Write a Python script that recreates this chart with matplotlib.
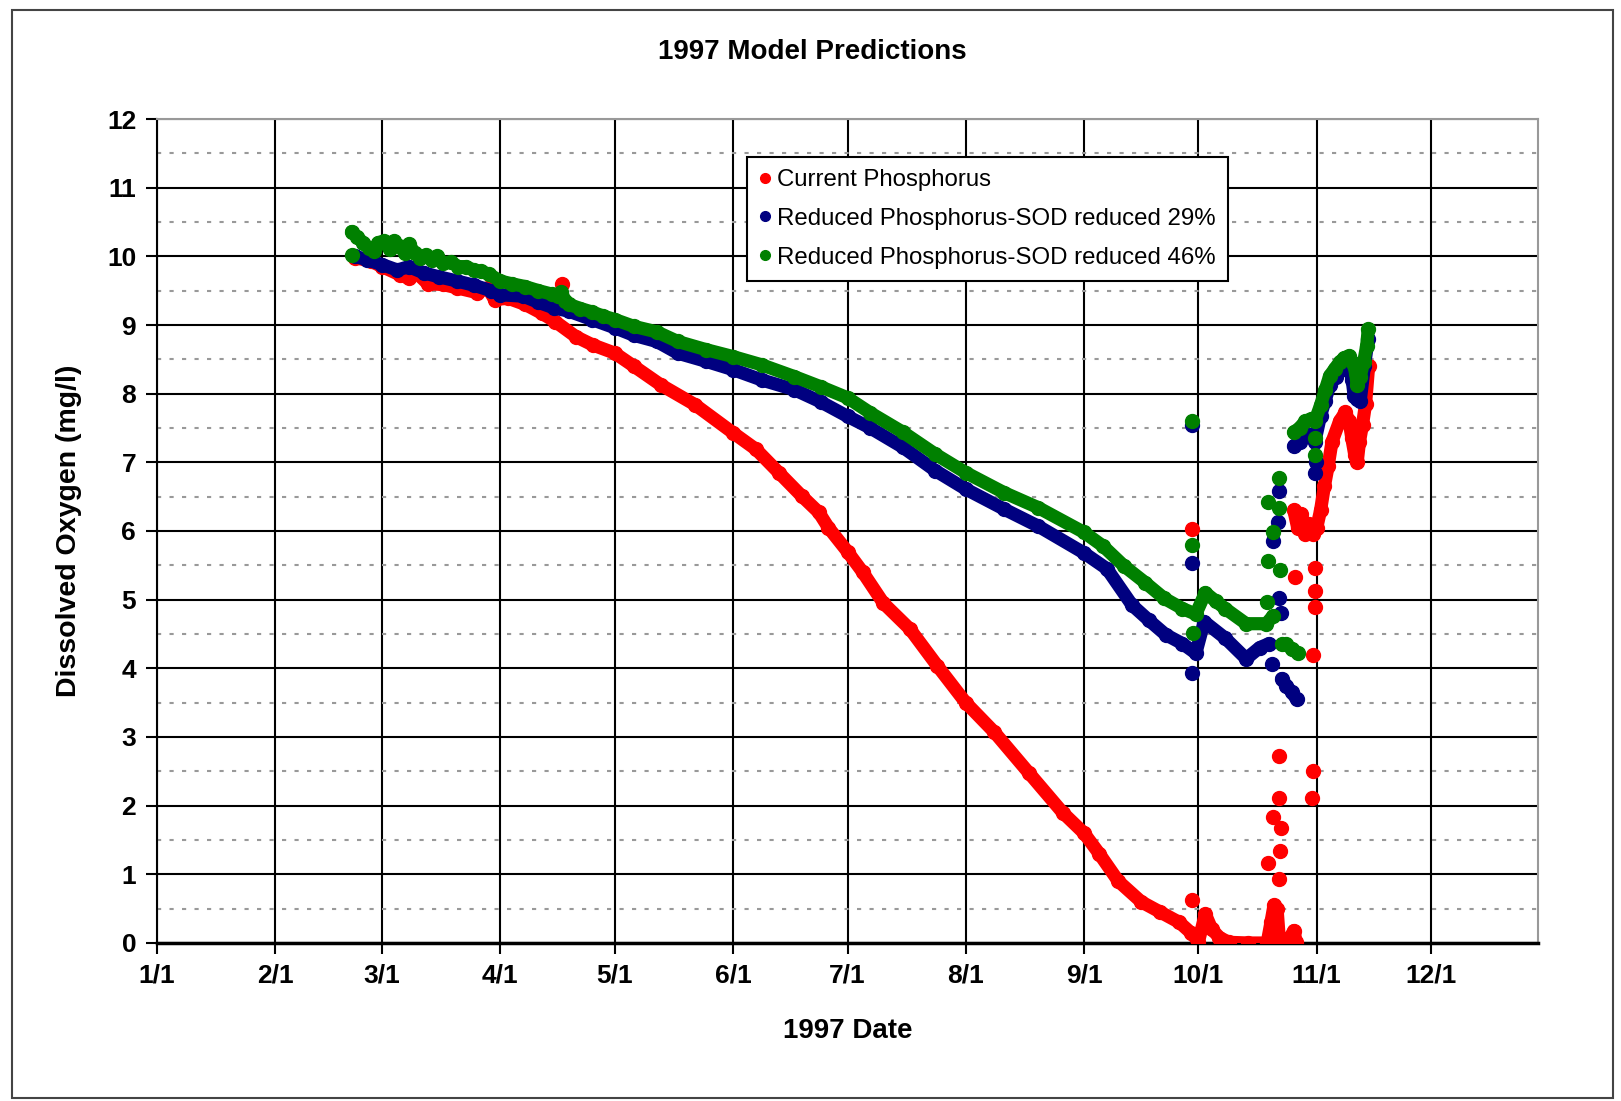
# -*- coding: utf-8 -*-
"""
1997 Model Predictions - dissolved oxygen for three phosphorus scenarios
"""

import numpy as np
import matplotlib
matplotlib.use('Agg')
import matplotlib.pyplot as plt
from matplotlib.patches import Rectangle

#--------#
# INPUTS #
#--------#

# x values are day of year (0 = 1/1/1997), y values are DO (mg/l)

# Current Phosphorus - main trace
red_day = [52, 56, 59, 63.7, 66, 68, 71, 75, 78.7, 84, 86.7, 88.5, 92, 96.5,
           100.9, 104.4, 109.8, 114.2, 120, 125, 132, 141, 151, 157, 163, 169,
           173.5, 176, 181, 185, 190.4, 197.4, 204.5, 212, 219.5, 228.5, 237.4,
           243, 247, 252, 258, 263, 268, 271, 273, 274.8, 276.5, 278.5, 281,
           286, 291, 292, 292.8, 293.6, 294.2, 296.5, 298, 298.6]
red_do = [9.98, 9.93, 9.85, 9.73, 9.68, 9.76, 9.6, 9.59, 9.54, 9.47, 9.54, 9.37,
          9.39, 9.3, 9.17, 9.05, 8.83, 8.71, 8.59, 8.4, 8.13, 7.84, 7.43, 7.19,
          6.85, 6.51, 6.27, 6.05, 5.7, 5.4, 4.95, 4.57, 4.04, 3.5, 3.07, 2.48,
          1.9, 1.6, 1.3, 0.9, 0.6, 0.45, 0.3, 0.15, 0.02, 0.42, 0.2, 0.08, 0.01,
          0.0, 0.0, 0.3, 0.55, 0.5, 0.05, 0.03, 0.18, 0.02]
# Current Phosphorus - November recovery
red_nov_day = [298, 299, 300, 301, 302, 303, 304, 305, 306, 307, 308, 310,
               311.5, 312.5, 313.2, 314, 314.6, 315.2, 316, 316.8, 317.6]
red_nov_do = [6.3, 6.05, 6.25, 5.95, 6.1, 5.95, 6.05, 6.3, 6.65, 6.95, 7.3, 7.6,
              7.73, 7.6, 7.35, 7.1, 7.0, 7.3, 7.55, 7.85, 8.4]
# Current Phosphorus - isolated values
red_pts_day = [106.2, 271.2, 271.2, 291.2, 292.6, 294, 294.2, 294.4, 294.6,
               294.2, 298.3, 302.7, 303.1, 303.1, 303.5, 303.5, 303.5]
red_pts_do = [9.59, 6.03, 0.62, 1.16, 1.84, 2.73, 2.11, 1.34, 1.68, 0.93, 5.33,
              2.11, 2.51, 4.2, 4.89, 5.13, 5.46]

# Reduced Phosphorus-SOD reduced 29%
blue_day = [52, 55, 59, 63, 66, 69.9, 74, 78.7, 83, 87.6, 90, 96, 100, 104, 108,
            114, 120, 125, 131, 136.5, 144, 151, 158.5, 167, 174, 181, 187,
            195.5, 204, 212, 222, 231, 243, 249, 255.6, 260, 264.4, 268.8,
            272.3, 274.5, 280, 285.5, 289, 291.5]
blue_do = [10.0, 9.95, 9.88, 9.8, 9.85, 9.76, 9.7, 9.64, 9.58, 9.5, 9.44, 9.42,
           9.33, 9.25, 9.2, 9.08, 8.96, 8.85, 8.76, 8.59, 8.47, 8.35, 8.2, 8.06,
           7.88, 7.67, 7.5, 7.22, 6.88, 6.61, 6.32, 6.07, 5.68, 5.45, 4.92, 4.7,
           4.49, 4.36, 4.22, 4.68, 4.44, 4.14, 4.3, 4.36]
blue_low_day = [294.8, 296, 297.5, 298.7]
blue_low_do = [3.85, 3.75, 3.65, 3.55]
blue_nov_day = [298, 299.5, 301, 302.5, 303.5, 305, 306.2, 307.4, 309, 310.8,
                312.5, 313.3, 313.8, 314.6, 315.4, 316.5, 317.5]
blue_nov_do = [7.24, 7.3, 7.4, 7.4, 7.3, 7.68, 7.9, 8.12, 8.25, 8.36, 8.41, 8.2,
               7.97, 7.92, 7.9, 8.4, 8.8]
blue_pts_day = [271.2, 271.2, 271.4, 292.3, 292.6, 293.8, 294, 294.2, 294.6,
                303.5, 303.7]
blue_pts_do = [7.55, 5.53, 3.93, 4.06, 5.86, 6.13, 6.58, 5.03, 4.81, 6.85, 7.0]

# Reduced Phosphorus-SOD reduced 46%
green_day = [51, 52.5, 54, 55.5, 57, 58, 59.5, 61, 62, 63.5, 65, 66, 67.5, 69,
             70.5, 72, 73.5, 75, 77, 79, 81, 83, 85, 87, 90, 93, 96.5, 100,
             103.5, 105, 106, 107, 108, 111, 114, 117, 120, 125, 131, 136.5,
             144, 151, 158.5, 167, 174, 181, 187, 195.5, 204, 212, 222, 231,
             243, 248, 253.5, 259, 264, 268.8, 272.3, 274.8, 277.5, 280, 285.5,
             290.8, 292.5]
green_do = [10.36, 10.28, 10.2, 10.12, 10.08, 10.2, 10.22, 10.1, 10.22, 10.15,
            10.05, 10.18, 10.05, 9.98, 10.02, 9.95, 10.0, 9.9, 9.92, 9.85, 9.85,
            9.8, 9.78, 9.74, 9.64, 9.6, 9.56, 9.5, 9.45, 9.42, 9.48, 9.35, 9.3,
            9.24, 9.19, 9.13, 9.08, 8.98, 8.9, 8.76, 8.64, 8.54, 8.42, 8.25, 8.1,
            7.94, 7.72, 7.44, 7.12, 6.85, 6.56, 6.34, 5.98, 5.78, 5.49, 5.25,
            5.02, 4.87, 4.79, 5.1, 4.98, 4.87, 4.65, 4.65, 4.76]
green_low_day = [294.8, 296, 297.5, 299]
green_low_do = [4.35, 4.35, 4.28, 4.22]
green_nov_day = [298, 299.5, 301, 302.5, 303.5, 305, 306.2, 307.4, 308.7, 310,
                 311.2, 312.5, 313.5, 314.2, 314.6, 315.4, 316.3, 317.1, 317.5]
green_nov_do = [7.44, 7.5, 7.6, 7.63, 7.6, 7.83, 8.05, 8.26, 8.36, 8.46, 8.52,
                8.55, 8.45, 8.3, 8.12, 8.25, 8.46, 8.7, 8.94]
green_pts_day = [51, 271.2, 271.2, 271.6, 291, 291.1, 291.3, 292.6, 294, 294,
                 294.4, 303.5, 303.5]
green_pts_do = [10.02, 7.6, 5.79, 4.51, 4.97, 6.42, 5.56, 5.99, 6.77, 6.34,
                5.43, 7.35, 7.1]

# Axis ticks
month_days = [0, 31, 59, 90, 120, 151, 181, 212, 243, 273, 304, 334]
month_labels = ['1/1', '2/1', '3/1', '4/1', '5/1', '6/1', '7/1', '8/1', '9/1',
                '10/1', '11/1', '12/1']

series_labels = ['Current Phosphorus',
                 'Reduced Phosphorus-SOD reduced 29%',
                 'Reduced Phosphorus-SOD reduced 46%']

#----------------#
# Visualizations #
#----------------#

plt.rcParams['font.family'] = ['Liberation Sans', 'DejaVu Sans']

fig = plt.figure(figsize=(16.21, 11.01), dpi=100)
fig.patch.set_facecolor('white')

# outer chart frame
fig.patches.append(Rectangle((12 / 1621, 1 - 1098 / 1101), 1601 / 1621,
                             1088 / 1101, transform=fig.transFigure,
                             fill=False, edgecolor='#444444', linewidth=1.5))

ax = fig.add_axes([157 / 1621, 1 - 943 / 1101, 1381 / 1621, 824 / 1101])

ms = 10
lw = 9.5


def draw_series(days, vals, color, z):
    ax.plot(days, vals, color=color, linewidth=lw, marker='o', markersize=ms,
            solid_capstyle='round', zorder=z)


def draw_points(days, vals, color, z):
    ax.plot(days, vals, color=color, linestyle='none', marker='o',
            markersize=ms, zorder=z)


red = '#FF0000'
blue = '#000080'
green = '#008000'

draw_series(red_day, red_do, red, 3)
draw_series(red_nov_day, red_nov_do, red, 3)
draw_points(red_pts_day, red_pts_do, red, 3)

draw_series(blue_day, blue_do, blue, 4)
draw_series(blue_low_day, blue_low_do, blue, 4)
draw_series(blue_nov_day, blue_nov_do, blue, 4)
draw_points(blue_pts_day, blue_pts_do, blue, 4)

draw_series(green_day, green_do, green, 5)
draw_series(green_low_day, green_low_do, green, 5)
draw_series(green_nov_day, green_nov_do, green, 5)
draw_points(green_pts_day, green_pts_do, green, 5)

# legend (marker only entries)
h1, = ax.plot([], [], 'o', color=red, markersize=7)
h2, = ax.plot([], [], 'o', color=blue, markersize=7)
h3, = ax.plot([], [], 'o', color=green, markersize=7)
leg = ax.legend([h1, h2, h3], series_labels, loc='upper left',
                bbox_to_anchor=(747 / 1621, 1 - 157 / 1101),
                bbox_transform=fig.transFigure, fancybox=False, shadow=False,
                fontsize=17.3, handlelength=0.5, handletextpad=0.25,
                borderpad=0.5, labelspacing=0.7, borderaxespad=0,
                framealpha=1)
leg.get_frame().set_edgecolor('black')
leg.get_frame().set_linewidth(1.5)
leg.set_zorder(10)

# axes limits and ticks
ax.set_xlim(0, 362)
ax.set_ylim(0, 12)
ax.set_xticks(month_days)
ax.set_xticklabels(month_labels)
ax.set_yticks(np.arange(0, 13, 1))
ax.set_yticks(np.arange(0.5, 12, 1), minor=True)
ax.tick_params(axis='both', which='major', direction='out', length=8,
               width=1.5, labelsize=19, pad=7)
ax.tick_params(axis='y', which='minor', length=0)
for lab in ax.get_xticklabels() + ax.get_yticklabels():
    lab.set_fontweight('bold')

# grid
ax.yaxis.grid(True, which='major', color='black', linewidth=1.5, zorder=1)
ax.yaxis.grid(True, which='minor', color='#999999', linewidth=1.5,
              linestyle=(0, (2, 4)), zorder=1)
ax.xaxis.grid(True, which='major', color='black', linewidth=1.5, zorder=1)
ax.set_axisbelow(True)

for side in ['top', 'right']:
    ax.spines[side].set_color('#999999')
    ax.spines[side].set_linewidth(1.5)
ax.spines['left'].set_linewidth(1.5)
ax.spines['bottom'].set_linewidth(2.5)

ax.set_xlabel('1997 Date', fontsize=20, fontweight='bold', labelpad=22)
ax.set_ylabel('Dissolved Oxygen (mg/l)', fontsize=20.5, fontweight='bold',
              labelpad=18)
fig.text(812 / 1621, 1 - 52 / 1101, '1997 Model Predictions', ha='center',
         va='center', fontsize=20, fontweight='bold')

fig.savefig('out.png', dpi=100, facecolor='white')
